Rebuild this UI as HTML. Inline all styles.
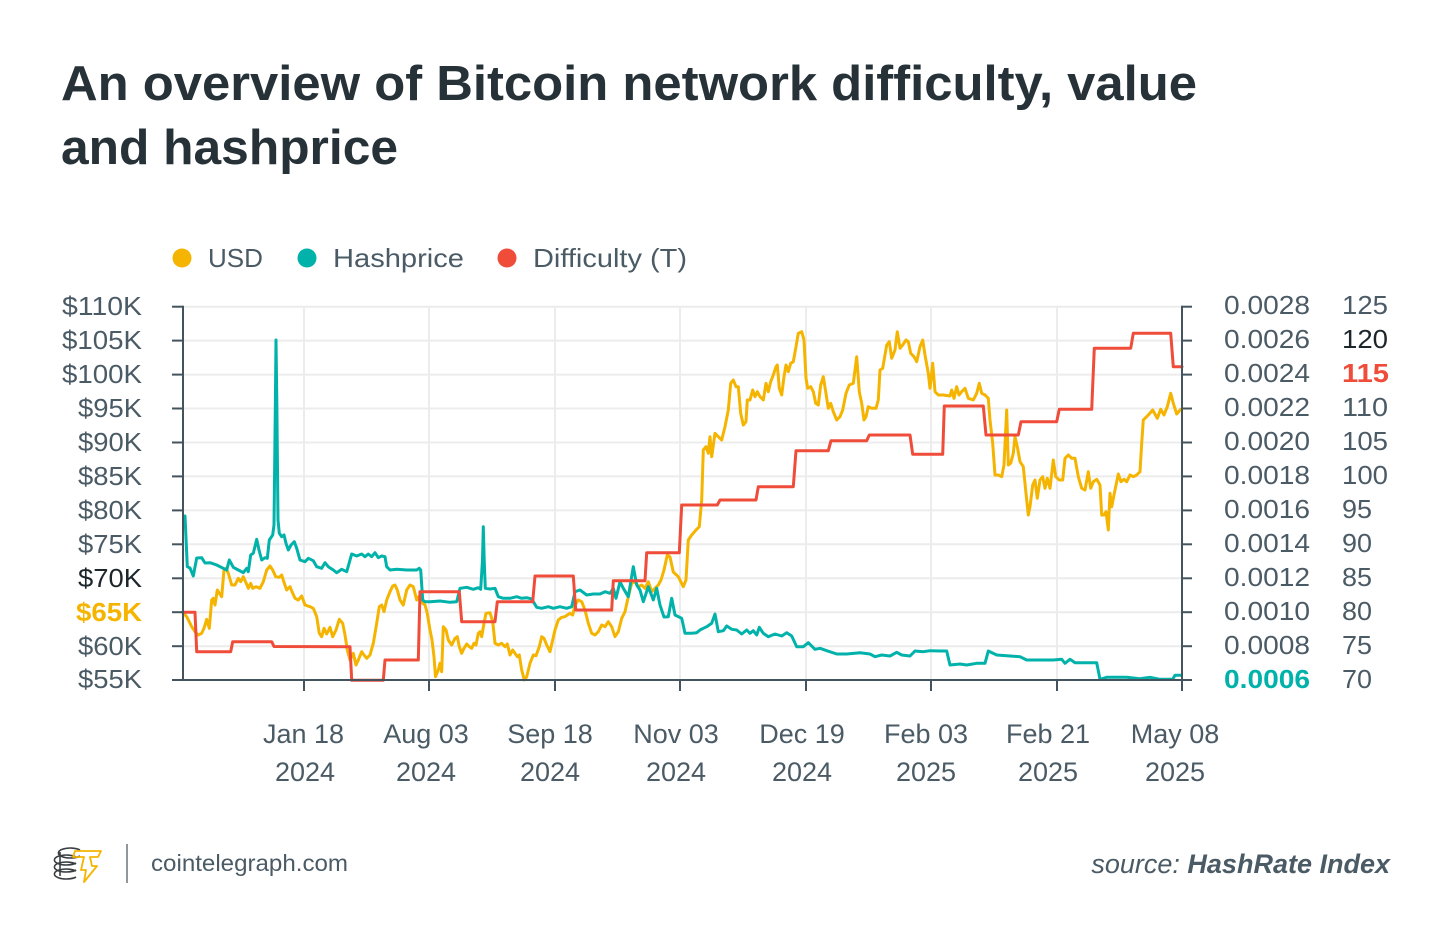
<!DOCTYPE html>
<html>
<head>
<meta charset="utf-8">
<style>
html,body{margin:0;padding:0;background:#fff;}
svg{display:block;}
text{font-family:"Liberation Sans","DejaVu Sans",sans-serif;}
</style>
</head>
<body>
<svg width="1450" height="944" viewBox="0 0 1450 944" xmlns="http://www.w3.org/2000/svg">
<rect width="1450" height="944" fill="#ffffff"/>

<!-- Title -->
<text x="61" y="100" font-size="49" font-weight="bold" fill="#263238" textLength="1136" lengthAdjust="spacingAndGlyphs">An overview of Bitcoin network difficulty, value</text>
<text x="61" y="164" font-size="49" font-weight="bold" fill="#263238" textLength="337" lengthAdjust="spacingAndGlyphs">and hashprice</text>

<!-- Legend -->
<circle cx="182" cy="258" r="9.5" fill="#f5b400"/>
<text x="208" y="267" font-size="26" fill="#4b5b66" textLength="55" lengthAdjust="spacingAndGlyphs">USD</text>
<circle cx="307" cy="258" r="9.5" fill="#00b2a9"/>
<text x="333" y="267" font-size="26" fill="#4b5b66" textLength="131" lengthAdjust="spacingAndGlyphs">Hashprice</text>
<circle cx="507" cy="258" r="9.5" fill="#ef4c3a"/>
<text x="533" y="267" font-size="26" fill="#4b5b66" textLength="154" lengthAdjust="spacingAndGlyphs">Difficulty (T)</text>

<!-- Grid -->
<g stroke="#ececec" stroke-width="2">
<line x1="183" y1="306.7" x2="1182" y2="306.7"/>
<line x1="183" y1="340.6" x2="1182" y2="340.6"/>
<line x1="183" y1="374.6" x2="1182" y2="374.6"/>
<line x1="183" y1="408.5" x2="1182" y2="408.5"/>
<line x1="183" y1="442.5" x2="1182" y2="442.5"/>
<line x1="183" y1="476.4" x2="1182" y2="476.4"/>
<line x1="183" y1="510.4" x2="1182" y2="510.4"/>
<line x1="183" y1="544.3" x2="1182" y2="544.3"/>
<line x1="183" y1="578.3" x2="1182" y2="578.3"/>
<line x1="183" y1="612.2" x2="1182" y2="612.2"/>
<line x1="183" y1="646.2" x2="1182" y2="646.2"/>
<line x1="304" y1="306.7" x2="304" y2="680"/>
<line x1="429" y1="306.7" x2="429" y2="680"/>
<line x1="555" y1="306.7" x2="555" y2="680"/>
<line x1="680" y1="306.7" x2="680" y2="680"/>
<line x1="806" y1="306.7" x2="806" y2="680"/>
<line x1="931" y1="306.7" x2="931" y2="680"/>
<line x1="1057" y1="306.7" x2="1057" y2="680"/>
</g>

<!-- Series -->
<g fill="none" stroke-width="3" stroke-linejoin="round" stroke-linecap="round">
<polyline stroke="#f5b400" points="182.7,612.3 186.7,616.7 191.7,626.7 195,631.7 198.3,635 201.7,633.3 204,628.3 206.7,619.3 209.3,628.3 211.7,600 213.3,598.3 215,605 217.3,590 219.3,593.3 221.7,596.7 224,570 226,568.3 228.3,573.3 231.7,585 235,585 238.3,578.3 240.7,581.7 243.3,576.7 246,582.7 248.3,588.3 250.7,583.3 252.7,588.3 256,586.7 260,588.3 263.3,581.7 266.7,570 270,566 272.7,570 275.7,576.7 279.3,577.3 281.7,575 284.3,583.3 286.7,590 290,586.7 292.7,593.3 295,598.3 298.3,600 301.7,596 305,605 310,606.7 313.3,608.3 316.7,616.7 319.3,633.3 321.7,636.7 324,628.3 326.7,634 330,627.3 332.7,636.7 336,630 339.3,619.3 342.7,623.3 345,635 347.3,650 350,660 353.3,653.3 356,665 358.3,660 361.7,651.7 364,655 366.7,658.3 370,655 373.3,643.3 376.7,623.3 379.3,606.7 381.7,605 384,611.7 386.7,600 390,591.7 392.7,586 395,585 397.3,590 400,600 403.3,605 406.7,590 410,585 413.3,586.7 416.7,600 419.3,596 422.7,603.3 425,605 427,612 430,630 432,640 434,656.7 435.5,676.7 438.3,670 440,663.3 441.7,671.7 443.3,626.7 446,630 448.3,640 451.7,645 455,638.3 457.3,636.7 459.3,646.7 461.7,653.3 464,648.3 466.7,644 469.3,646.7 471.7,648.3 474,643.3 476,645 478.3,633.3 480,631.7 481.7,636.7 484,623.3 486,613.3 490,612.7 492.7,621.7 495,643.3 498.3,645 501.7,643.3 505,646.7 507.3,644 510,655 512.7,650 515,653.3 517.3,656.7 519.3,655 521.7,670 524.3,680 526.7,676.7 530,663.3 533.3,655 536,655.7 539.3,646.7 541.7,636.7 544,638.3 546.7,645 550,651.7 552.7,640 555,630 558.3,620 561.7,617.3 565,616.7 567.3,615 570,613.3 572.7,615 575,605 578.3,600 581.7,601.7 585,610 588.3,623.3 591.7,633.3 595,635 598.3,631.7 601.7,625 605,626.7 608.3,621.7 611.7,626.7 615,636.7 618.3,631.7 621.7,618.3 625,611.7 628.3,596.7 631.7,583.3 635,581.7 638.3,586.7 641.7,585 645,588.3 648.3,581.7 651.7,591.7 655,588.3 658.3,585 661,580 664,570 667.3,555 670,557 673.3,572 678.3,576.7 683.3,586.7 686,580 688.3,540 691.7,535 696.7,529.3 699.3,526.7 701.7,500 703.3,450 706,446.7 708.3,453.3 710,436.7 711.7,456.7 715,433.3 718.3,436.7 721.7,440 725,426.7 728.3,410 730.7,383.3 733.3,380 736,386.7 738.3,386.7 740.7,413.3 743.3,425 746,421.7 747.3,400 750,400 752.7,390 755,396.7 757.3,391.7 760,396.7 763.3,400 766,383.3 768.3,391.7 770.7,381.7 773.3,375 776,366.7 777.3,365 779.3,388.3 781.7,395 784,376.7 786,365 788.3,371.7 790.7,363.3 793.3,361.7 796,346.7 798.3,333.3 801.7,331.7 804,340 806,378.3 807.7,388.3 810.7,386.7 813.3,391.7 815.7,403.3 818.3,405 820.7,385 823.3,376.7 825.7,391.7 828.3,408.3 830.7,403.3 833.3,411.7 836.7,420 840,416.7 842.7,410 846,393.3 849.3,385 853.3,383.3 856.7,356.7 859.3,391.7 861.7,403.3 864,420 866,416.7 868.3,406.7 871.7,408.3 876,408.3 878.3,400 880,370 882.7,368.3 886.7,345 889.3,341.7 891.7,358.3 895,350 897.3,331.7 900,348.3 902.7,345 906,340 908.3,341.7 910.7,353.3 914,356.7 916.7,361.7 920,346.7 922.7,340 925,355 928.3,373.3 930,388.3 932.7,363.3 935,391.7 938.3,395 943.3,395 950,396 951.7,390 954,398.3 956.7,386.7 959,395 961.7,391.7 965,388.3 968.3,398.3 973.3,400 976.7,393.3 979.3,383.3 981.7,393.3 985,395 988.3,398.3 990,420 992.7,443.3 995,475 998.3,475 1001.7,476.7 1004,465 1006.7,410 1008.3,465 1010.7,463.3 1013.3,453.3 1015,436.7 1017.3,446.7 1020,461.7 1023.3,466.7 1026,493.3 1028.3,515 1030,506.7 1032.7,485 1035,480 1037.3,498.3 1040,480 1042.7,476.7 1045,488.3 1047.3,478.3 1050,488.3 1053.3,460 1055.7,476.7 1059.3,480 1062.7,480 1065,458.3 1068.3,455 1071.7,458.3 1075,458.3 1078.3,476.7 1081.7,488.3 1085,490 1088.3,471.7 1090.7,488.3 1093.3,481.7 1096.7,479.3 1100,485 1101.7,515 1104,515 1106,511.7 1108.3,530 1110,493.3 1111.7,506.7 1115,490 1118.3,474 1121,481.7 1124,479.3 1126.7,481.7 1130,475 1133.3,476.7 1136.7,475 1140,471.7 1141.7,443.3 1143.3,420 1148.3,415 1152.7,410 1157.3,418.3 1160.7,409.3 1164,415 1167.3,406.7 1170.7,393.3 1173.3,403.3 1176.7,414 1180.7,409.3"/>

<polyline stroke="#00b2a9" points="185,516 187.3,566.7 190,568 193.3,576 196.7,558 201.7,557.7 205,563 210,562.7 216.7,565 223.3,568.3 226.7,570 229.3,560 233.3,567.3 238.3,570 243.3,572.7 246.7,568.3 248.3,571.7 250.7,555 253.3,553.3 256.7,539.3 259,550 261.7,560 265,557.7 267.3,558.3 269.3,540 272.7,535 274,525 275.4,400 276,340 276.8,400 278,520 279.3,533.3 281.7,536.7 284,535 286,543.3 288.3,550 291,545 294.3,541.7 296.7,548.3 300,560 305,561.7 308.3,558.3 313.3,560.7 316.7,566.7 321.7,568.3 325,562.7 328.3,566.7 333.3,570 336.7,572.7 341.7,569.3 346.7,571.7 351.7,554 356.7,556 361.7,554 365,556.7 368.3,554 371.7,556.7 375,552.7 378.3,557.7 381.7,556 385,556.7 386.7,566.7 390,570 396.7,569.3 406.7,570 416.7,570 419.3,568.3 420.7,570 422.7,600 425,601.7 430,601.7 440,601 450,602.3 456.7,601.7 460,588.3 466.7,587.3 473.3,589.3 478.3,587.7 480.7,589.3 482.5,560 483.3,526.7 484.2,560 485.3,588.3 490,589 495,588.3 498.3,596.7 503.3,598.3 510,598.3 516.7,596.7 521.7,598.3 526.7,597.7 531.7,599 536.7,607.3 541.7,608.3 548.3,606.7 553.3,608.3 560,606.7 566.7,608.3 571.7,606.7 575,591.7 580,590 586.7,595 593.3,594 600,594 605,591.7 610,593.3 613.3,588.3 616,598.3 620,581.7 623.3,588.3 628.3,596.7 633.3,566.7 636.7,585 640,590 643.3,601.7 648.3,586.7 653.3,600 656.7,588.3 660,605 664,617 668.3,616.7 671.7,598.3 675,615 681.7,618.3 685,633.3 691.7,633.3 696.7,632.7 700,630 703.3,628.3 706.7,626.7 711.7,623.3 715,614 718.3,631.7 723.3,630.7 726.7,626 731.7,629.3 736.7,630 741.7,634 746.7,630 750,633.3 753.3,630.7 756.7,635 759.3,627.3 763.3,633.3 768.3,636.7 775,634 781.7,636 786.7,632.7 791.7,636 796.7,646.7 803.3,646.7 808.3,642.7 815,649.3 820,648.3 826.7,650.7 836.7,654 846.7,654 860,652.7 870,654 875,656.7 881.7,655 890,656 896.7,652.3 901.7,655 910,656 915,651 923.3,651.7 930,650.7 940,651 946.7,651 950,665 960,664 966.7,665 976.7,663.3 985,663.3 988.3,651 996.7,655 1010,656 1020,656.7 1026.7,660 1040,660 1053.3,660 1061.7,659.3 1065,663.3 1070,659.3 1075,662.7 1083.3,662.7 1096.7,662.7 1100,679.3 1106.7,677.3 1126.7,677.3 1140,678.7 1150,677.3 1160,679.3 1172.7,679.3 1175,675.3 1181,675.3"/>

<polyline stroke="#ef4c3a" points="182.7,612.3 195,612.3 196.7,651.7 230.7,651.7 232.7,641.7 271.7,641.7 274,646.5 350,646.7 351.7,680.3 383.3,680.3 385,660 418.3,660 420,591.7 459.3,591.7 461.7,621.7 495,621.7 497.3,601.7 532.7,601.7 535,576 573.3,576 575.7,610 611.7,610 613.3,580.7 645,580.7 646.7,552.7 679.3,552.7 681.7,505 717.3,505 720,500 756,500 758.3,486.7 793.3,486.7 796,450.7 828.3,450.7 831,440.7 866.7,440.7 869.3,435 910,435 912.7,454.3 942.7,454.3 944.3,406 983.3,406 986,435 1018.3,435 1021,421.7 1056.7,421.7 1059.3,409.3 1091.7,409.3 1094.3,348.3 1130.7,348.3 1133.3,333.3 1170.7,333.3 1173.3,366.7 1182,366.7"/>
</g>

<!-- Axes -->
<g stroke="#44545e" stroke-width="2" fill="none">
<line x1="183" y1="305.7" x2="183" y2="681"/>
<line x1="1182" y1="305.7" x2="1182" y2="691"/>
<line x1="172" y1="680" x2="1192" y2="680"/>
<line x1="172" y1="306.7" x2="183" y2="306.7"/>
<line x1="172" y1="340.6" x2="183" y2="340.6"/>
<line x1="172" y1="374.6" x2="183" y2="374.6"/>
<line x1="172" y1="408.5" x2="183" y2="408.5"/>
<line x1="172" y1="442.5" x2="183" y2="442.5"/>
<line x1="172" y1="476.4" x2="183" y2="476.4"/>
<line x1="172" y1="510.4" x2="183" y2="510.4"/>
<line x1="172" y1="544.3" x2="183" y2="544.3"/>
<line x1="172" y1="578.3" x2="183" y2="578.3"/>
<line x1="172" y1="612.2" x2="183" y2="612.2"/>
<line x1="172" y1="646.2" x2="183" y2="646.2"/>
<line x1="1182" y1="306.7" x2="1192" y2="306.7"/>
<line x1="1182" y1="340.6" x2="1192" y2="340.6"/>
<line x1="1182" y1="374.6" x2="1192" y2="374.6"/>
<line x1="1182" y1="408.5" x2="1192" y2="408.5"/>
<line x1="1182" y1="442.5" x2="1192" y2="442.5"/>
<line x1="1182" y1="476.4" x2="1192" y2="476.4"/>
<line x1="1182" y1="510.4" x2="1192" y2="510.4"/>
<line x1="1182" y1="544.3" x2="1192" y2="544.3"/>
<line x1="1182" y1="578.3" x2="1192" y2="578.3"/>
<line x1="1182" y1="612.2" x2="1192" y2="612.2"/>
<line x1="1182" y1="646.2" x2="1192" y2="646.2"/>
<line x1="304" y1="680" x2="304" y2="691"/>
<line x1="429" y1="680" x2="429" y2="691"/>
<line x1="555" y1="680" x2="555" y2="691"/>
<line x1="680" y1="680" x2="680" y2="691"/>
<line x1="806" y1="680" x2="806" y2="691"/>
<line x1="931" y1="680" x2="931" y2="691"/>
<line x1="1057" y1="680" x2="1057" y2="691"/>
</g>

<!-- Left axis labels -->
<g font-size="26" fill="#4b5b66" text-anchor="end">
<text x="142" y="315" textLength="80" lengthAdjust="spacingAndGlyphs">$110K</text>
<text x="142" y="349" textLength="80" lengthAdjust="spacingAndGlyphs">$105K</text>
<text x="142" y="383" textLength="80" lengthAdjust="spacingAndGlyphs">$100K</text>
<text x="142" y="417" textLength="64" lengthAdjust="spacingAndGlyphs">$95K</text>
<text x="142" y="451" textLength="64" lengthAdjust="spacingAndGlyphs">$90K</text>
<text x="142" y="485" textLength="64" lengthAdjust="spacingAndGlyphs">$85K</text>
<text x="142" y="519" textLength="64" lengthAdjust="spacingAndGlyphs">$80K</text>
<text x="142" y="553" textLength="64" lengthAdjust="spacingAndGlyphs">$75K</text>
<text x="142" y="587" textLength="64" lengthAdjust="spacingAndGlyphs" fill="#1d262b">$70K</text>
<text x="142" y="621" textLength="66" lengthAdjust="spacingAndGlyphs" fill="#f5b400" font-weight="bold">$65K</text>
<text x="142" y="655" textLength="64" lengthAdjust="spacingAndGlyphs">$60K</text>
<text x="142" y="688" textLength="64" lengthAdjust="spacingAndGlyphs">$55K</text>
</g>

<!-- Right axis labels (hashprice) -->
<g font-size="26" fill="#4b5b66">
<text x="1224" y="314" textLength="86" lengthAdjust="spacingAndGlyphs">0.0028</text>
<text x="1224" y="348" textLength="86" lengthAdjust="spacingAndGlyphs">0.0026</text>
<text x="1224" y="382" textLength="86" lengthAdjust="spacingAndGlyphs">0.0024</text>
<text x="1224" y="416" textLength="86" lengthAdjust="spacingAndGlyphs">0.0022</text>
<text x="1224" y="450" textLength="86" lengthAdjust="spacingAndGlyphs">0.0020</text>
<text x="1224" y="484" textLength="86" lengthAdjust="spacingAndGlyphs">0.0018</text>
<text x="1224" y="518" textLength="86" lengthAdjust="spacingAndGlyphs">0.0016</text>
<text x="1224" y="552" textLength="86" lengthAdjust="spacingAndGlyphs">0.0014</text>
<text x="1224" y="586" textLength="86" lengthAdjust="spacingAndGlyphs">0.0012</text>
<text x="1224" y="620" textLength="86" lengthAdjust="spacingAndGlyphs">0.0010</text>
<text x="1224" y="654" textLength="86" lengthAdjust="spacingAndGlyphs">0.0008</text>
<text x="1224" y="688" textLength="86" lengthAdjust="spacingAndGlyphs" fill="#00b2a9" font-weight="bold">0.0006</text>
</g>

<!-- Right axis labels (difficulty) -->
<g font-size="26" fill="#4b5b66">
<text x="1342" y="314" textLength="46" lengthAdjust="spacingAndGlyphs">125</text>
<text x="1342" y="348" textLength="46" lengthAdjust="spacingAndGlyphs" fill="#1d262b">120</text>
<text x="1342" y="382" textLength="47" lengthAdjust="spacingAndGlyphs" fill="#ef4c3a" font-weight="bold">115</text>
<text x="1342" y="416" textLength="46" lengthAdjust="spacingAndGlyphs">110</text>
<text x="1342" y="450" textLength="46" lengthAdjust="spacingAndGlyphs">105</text>
<text x="1342" y="484" textLength="46" lengthAdjust="spacingAndGlyphs">100</text>
<text x="1342" y="518" textLength="30" lengthAdjust="spacingAndGlyphs">95</text>
<text x="1342" y="552" textLength="30" lengthAdjust="spacingAndGlyphs">90</text>
<text x="1342" y="586" textLength="30" lengthAdjust="spacingAndGlyphs">85</text>
<text x="1342" y="620" textLength="30" lengthAdjust="spacingAndGlyphs">80</text>
<text x="1342" y="654" textLength="30" lengthAdjust="spacingAndGlyphs">75</text>
<text x="1342" y="688" textLength="30" lengthAdjust="spacingAndGlyphs">70</text>
</g>

<!-- X axis labels -->
<g font-size="27" fill="#4b5b66" text-anchor="middle">
<text x="303.5" y="743">Jan 18</text>
<text x="305" y="781">2024</text>
<text x="426" y="743">Aug 03</text>
<text x="426" y="781">2024</text>
<text x="550" y="743">Sep 18</text>
<text x="550" y="781">2024</text>
<text x="676" y="743">Nov 03</text>
<text x="676" y="781">2024</text>
<text x="802" y="743">Dec 19</text>
<text x="802" y="781">2024</text>
<text x="926" y="743">Feb 03</text>
<text x="926" y="781">2025</text>
<text x="1048" y="743">Feb 21</text>
<text x="1048" y="781">2025</text>
<text x="1175" y="743">May 08</text>
<text x="1175" y="781">2025</text>
</g>

<!-- Footer logo -->
<g fill="none" stroke="#3a3f44" stroke-width="1.6">
<path d="M80,850 A12,5 0 1 0 80,856"/>
<path d="M76,857 A12,5 0 1 0 76,863"/>
<path d="M76,864 A12,5 0 1 0 76,870"/>
<path d="M76,871 A12,5 0 1 0 76,877"/>
<path d="M60,852 L60,876"/>
</g>
<path d="M75,851 L101,851 L98,857 L90,857 L92,866 L97,866 L84,882 L86,870 L81,870 L84,857 L73,857 Z" fill="none" stroke="#f5b400" stroke-width="1.8" stroke-linejoin="round"/>
<line x1="127" y1="844" x2="127" y2="883" stroke="#6a757d" stroke-width="1.5"/>
<text x="151" y="871" font-size="23" fill="#4b5b66" textLength="197" lengthAdjust="spacingAndGlyphs">cointelegraph.com</text>

<text x="1390" y="873" font-size="27" fill="#4b5b66" text-anchor="end" font-style="italic"><tspan>source: </tspan><tspan font-weight="bold">HashRate Index</tspan></text>
</svg>
</body>
</html>
